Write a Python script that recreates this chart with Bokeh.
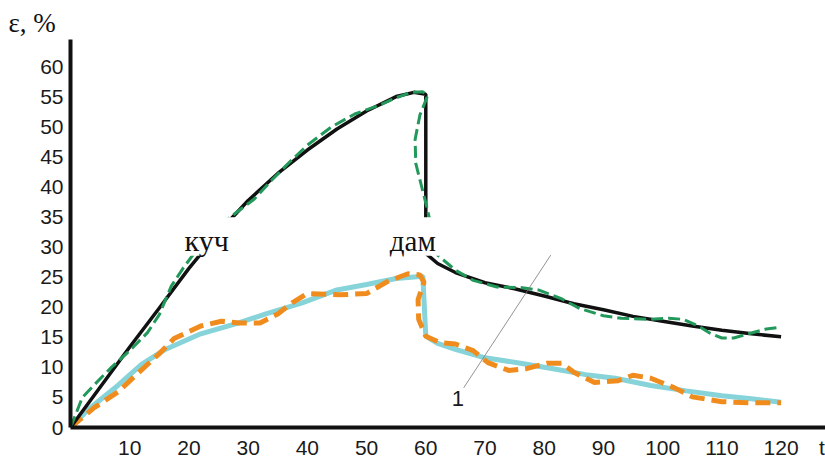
from bokeh.plotting import figure
from bokeh.models import Range1d, FixedTicker, Label, BoxAnnotation
from bokeh.embed import file_html
from bokeh.resources import INLINE

# ---- data ----
black_t = [0, 5, 10, 15, 20, 25, 30, 35, 40, 45, 50, 55, 58, 60, 60, 62, 65, 70, 75, 80, 85, 90, 95, 100, 105, 110, 115, 120]
black_e = [0, 6.7, 13.4, 19.9, 26.5, 32.5, 37.8, 42.3, 46.2, 49.7, 52.7, 55.1, 55.8, 55.5, 29, 27.3, 25.8, 24.1, 23.1, 21.9, 20.6, 19.6, 18.5, 17.7, 16.9, 16.2, 15.6, 15.1]

green_t = [0, 1, 2, 4.5, 7, 10, 13, 15, 17, 19, 22, 25, 28, 31, 34, 37, 40, 44, 48, 52, 55, 57.5, 59.5, 60.3, 59, 58.2, 58.3, 59.2, 60.1, 60.8, 62, 65, 68, 72, 76, 79, 83, 86, 90, 93, 98, 101, 103.5, 106, 108, 110, 112, 114.5, 117.5, 120]
green_e = [0, 2.5, 5, 7.6, 10.1, 12.8, 15.8, 18.8, 23.5, 26.5, 30.5, 33.5, 35.8, 38, 41.2, 44.2, 47, 50, 52.2, 53.6, 54.9, 55.8, 55.9, 55.2, 52, 48, 44, 40.5, 37, 34, 28.7, 26.2, 24.5, 23.4, 23.3, 22.9, 21.4, 19.8, 18.6, 18.2, 18, 18.2, 18, 16.9, 15.7, 14.9, 14.9, 15.6, 16.4, 16.7]

cyan_t = [0, 3, 8, 12, 16, 22, 28, 33, 39, 45, 50, 55, 59.5, 60, 62, 65, 70, 76, 82, 87, 92, 98, 104, 110, 115, 120]
cyan_e = [0, 3, 7, 10.5, 13, 15.6, 17.3, 18.9, 20.7, 22.9, 23.8, 24.8, 25.2, 15.2, 14, 13, 11.6, 10.7, 9.7, 8.8, 8.2, 7.0, 6.1, 5.3, 4.8, 4.2]

orange_t = [0, 4, 8, 12, 15, 17.5, 22, 25.5, 28.5, 32, 35, 37.5, 40, 45.5, 50, 53.5, 57, 59, 59.7, 58.7, 58.8, 60, 62.5, 65, 68, 70.5, 74, 77, 80.5, 83, 85, 88.5, 92.5, 95, 98, 102, 105, 110, 115, 120]
orange_e = [0, 3.3, 5.9, 9.6, 12.3, 14.8, 16.9, 17.7, 17.4, 17.4, 18.9, 20.8, 22.3, 22.1, 22.3, 24.3, 25.6, 25.4, 24.2, 21.3, 18, 15.2, 14.1, 13.9, 12.8, 10.8, 9.5, 9.8, 10.7, 10.7, 9.2, 7.5, 7.8, 8.7, 8.2, 6.6, 5.1, 4.3, 4.1, 4.1]

leader_t = [66.4, 81.1]
leader_e = [6.6, 28.7]

x_ticks = [10, 20, 30, 40, 50, 60, 70, 80, 90, 100, 110, 120, 126.9]
x_tick_overrides = {126.9: "t"}
y_ticks = [0, 5, 10, 15, 20, 25, 30, 35, 40, 45, 50, 55, 60]

p = figure(width=825, height=461, output_backend="svg", toolbar_location=None,
           x_range=Range1d(0, 127.5), y_range=Range1d(0, 64.6),
           min_border_left=70, min_border_right=0, min_border_top=39, min_border_bottom=28)
p.outline_line_color = None
p.grid.visible = False
p.background_fill_color = "white"
p.border_fill_color = "white"

p.title.text = "ε, %"
p.title.text_font = "Liberation Serif"
p.title.text_font_size = "27px"
p.title.text_font_style = "normal"
p.title.text_color = "#111111"
p.title.align = "left"
p.title.offset = -62
p.title.standoff = 4

for ax in (p.xaxis[0], p.yaxis[0]):
    ax.axis_line_color = "#111111"
    ax.axis_line_width = 4
    ax.major_tick_out = 0
    ax.major_tick_in = 0
    ax.minor_tick_out = 0
    ax.minor_tick_in = 0
    ax.major_label_text_font = "Liberation Sans"
    ax.major_label_text_font_size = "21px"
    ax.major_label_text_color = "#1a1a1a"
p.xaxis[0].ticker = FixedTicker(ticks=x_ticks)
p.xaxis[0].major_label_overrides = x_tick_overrides
p.yaxis[0].ticker = FixedTicker(ticks=y_ticks)
p.xaxis[0].major_label_standoff = 8
p.yaxis[0].major_label_standoff = 7

p.line(cyan_t, cyan_e, line_color="#86d3da", line_width=5)
p.line(orange_t, orange_e, line_color="#f08c1e", line_width=5, line_dash="15 7")
p.line(black_t, black_e, line_color="#111111", line_width=3.5)
p.line(green_t, green_e, line_color="#22995a", line_width=3, line_dash="12 5")
p.line(leader_t, leader_e, line_color="#777777", line_width=0.8)

band = BoxAnnotation(left=14, right=66, bottom=28.6, top=35, fill_color="white",
                     fill_alpha=1.0, line_color=None)
p.add_layout(band)

serif = "Liberation Serif"
p.add_layout(Label(x=23, y=31.1, text="куч", text_font=serif, text_font_size="30px",
                   text_align="center", text_baseline="middle", text_color="#111111"))
p.add_layout(Label(x=57.8, y=31.1, text="дам", text_font=serif, text_font_size="29px",
                   text_align="center", text_baseline="middle", text_color="#111111"))
p.add_layout(Label(x=65.4, y=4.9, text="1", text_font="Liberation Sans", text_font_size="22px",
                   text_align="center", text_baseline="middle", text_color="#1a1a1a"))

open("out.html", "w").write(file_html(p, INLINE))
